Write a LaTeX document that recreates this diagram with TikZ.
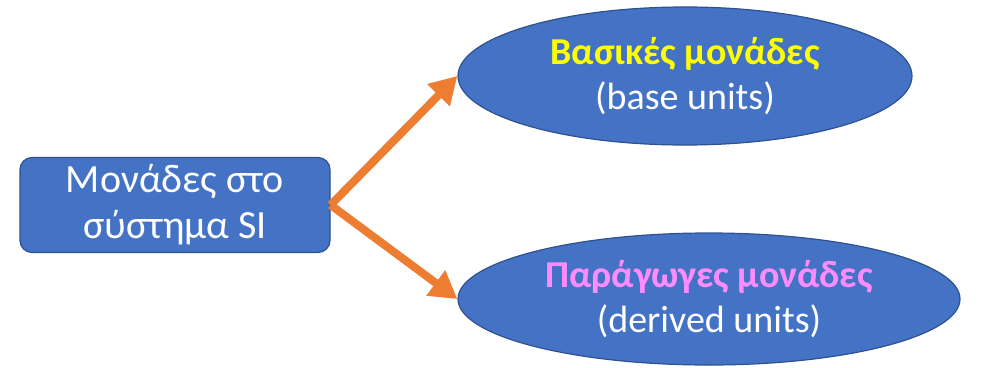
\documentclass[tikz,border=0pt]{standalone}
\usepackage{fontspec}
\setmainfont{Carlito}
\usetikzlibrary{shapes.geometric,arrows.meta}
\definecolor{boxblue}{RGB}{68,114,196}
\definecolor{edgeblue}{RGB}{47,82,143}
\definecolor{linkorange}{RGB}{237,125,49}
\definecolor{baseyellow}{RGB}{255,255,0}
\definecolor{derivedpink}{RGB}{255,140,255}
\begin{document}
\begin{tikzpicture}[x=1pt,y=-1pt,
    unitbox/.style={draw=edgeblue,fill=boxblue,line width=1.2pt,rounded corners=12pt,
      minimum width=310pt,minimum height=95pt,text=white,align=center,
      font=\fontsize{40}{46}\selectfont},
    unitoval/.style={ellipse,draw=edgeblue,fill=boxblue,line width=1.2pt,inner sep=0pt,
      text=white,align=center,font=\fontsize{38}{45}\selectfont},
    link/.style={draw=linkorange,line width=8pt,-{Triangle[length=27pt,width=30pt]}}]
    \useasboundingbox (0,0) rectangle (992,367);
    % the system and its two kinds of units
    \node[unitbox] (si) at (175,205) {Μονάδες στο\\σύστημα SI};
    \node[unitoval,minimum width=454pt,minimum height=138pt] (base) at (685,76)
      {\textcolor{baseyellow}{\textbf{Βασικές μονάδες}}\\(base units)};
    \node[unitoval,minimum width=502pt,minimum height=132pt] (derived) at (709,299)
      {\textcolor{derivedpink}{\textbf{Παράγωγες μονάδες}}\\(derived units)};
    % arrows
    \draw[link] (si.east) -- (base.west);
    \draw[link] (si.east) -- (derived.west);
\end{tikzpicture}
\end{document}
